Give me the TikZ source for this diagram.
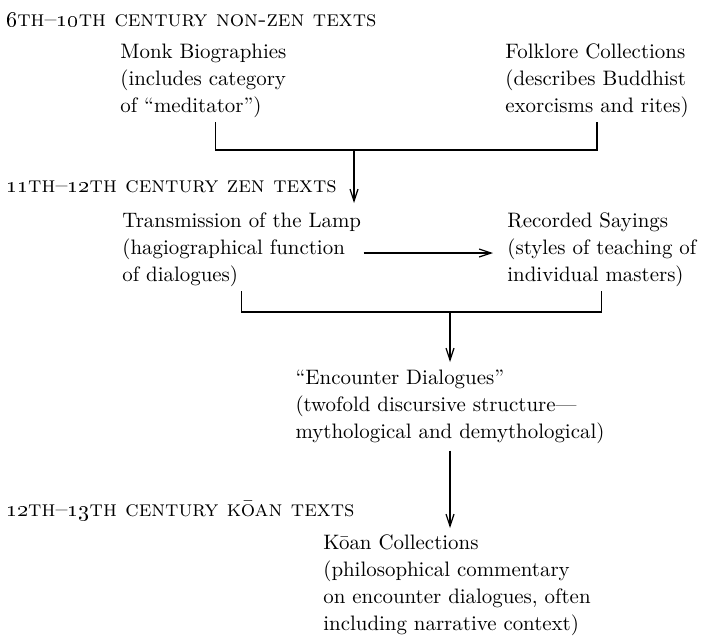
\documentclass[tikz,border=0pt]{standalone}
\usetikzlibrary{arrows.meta}

\begin{document}
\begin{tikzpicture}[x=0.5pt,y=-0.5pt,
    blurb/.style={align=left,inner sep=0pt,font=\fontsize{10.45}{13.5}\selectfont},
    era/.style={anchor=base west,inner sep=0pt,font=\fontsize{11.3}{13}\selectfont\scshape},
    rule/.style={line width=0.6pt},
    flow/.style={rule,-{Straight Barb[length=6pt,width=4pt]}}]
	\useasboundingbox (0,0) rectangle (703,637);
	% periods
	\node[era] (nonzen) at (6,26) {\oldstylenums{6}th–\oldstylenums{10}th century non-zen texts};
	\node[era] (zen) at (6,192) {\oldstylenums{11}th–\oldstylenums{12}th century zen texts};
	\node[era] (koantexts) at (6,516) {\oldstylenums{12}th–\oldstylenums{13}th century kōan texts};
	% sources
	\node[blurb,anchor=north west] (monk) at (120,43.5) {Monk Biographies\\(includes category\\of “meditator”)};
	\node[blurb,anchor=north west] (folk) at (505,43.5) {Folklore Collections\\(describes Buddhist\\exorcisms and rites)};
	\node[blurb,anchor=north west] (lamp) at (122,212.5) {Transmission of the Lamp\\(hagiographical function\\of dialogues)};
	\node[blurb,anchor=north west] (sayings) at (507,212.5) {Recorded Sayings\\(styles of teaching of\\individual masters)};
	\node[blurb,anchor=north] (dlg) at (450,370) {“Encounter Dialogues”\\(twofold discursive structure—\\mythological and demythological)};
	\node[blurb,anchor=north] (koan) at (457,534) {Kōan Collections\\(philosophical commentary\\on encounter dialogues, often\\including narrative context)};
	% joins
	\coordinate (j1) at (354,150);
	\coordinate (t1) at (354,203);
	\coordinate (j2) at (450,312);
	\coordinate (hz) at (0,253);
	\draw[rule,shorten <=2pt] ([xshift=6pt]monk.south) |- (j1);
	\draw[rule,shorten <=2pt] (folk.south) |- (j1);
	\draw[flow] (j1) -- (t1);
	\draw[flow,shorten <=1pt,shorten >=7pt] (lamp.east |- hz) -- (sayings.west |- hz);
	\draw[rule,shorten <=2pt] (lamp.south) |- (j2);
	\draw[rule,shorten <=2pt] (sayings.south) |- (j2);
	\draw[flow,shorten >=4pt] (j2) -- (dlg.north);
	\draw[flow,shorten <=3pt,shorten >=3pt] (dlg.south) -- (dlg.south |- koan.north);
\end{tikzpicture}
\end{document}
